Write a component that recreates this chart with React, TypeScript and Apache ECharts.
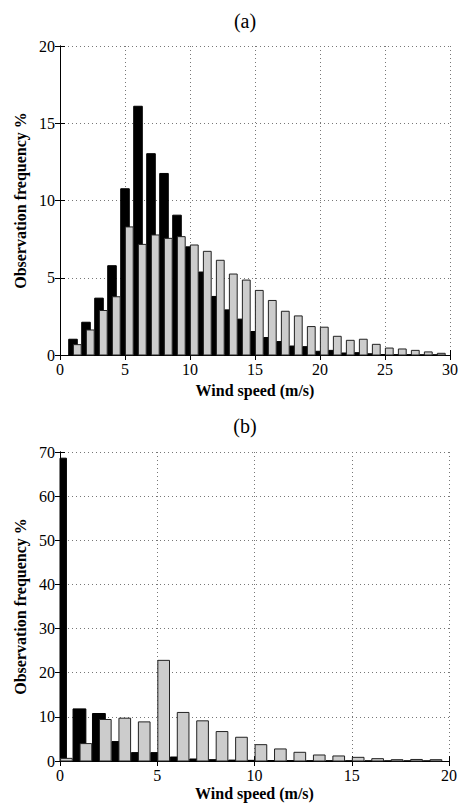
import React, { useEffect, useRef } from "react";
import * as echarts from "echarts";

// ---- Data: panel (a) ----
const speedsA = [1, 2, 3, 4, 5, 6, 7, 8, 9, 10, 11, 12, 13, 14, 15, 16, 17, 18, 19, 20, 21, 22, 23, 24, 25, 26, 27, 28, 29];
const blackA = [1.02, 2.12, 3.68, 5.78, 10.76, 16.1, 13.03, 11.75, 9.05, 7.0, 5.37, 3.79, 2.92, 2.32, 1.52, 1.13, 0.87, 0.58, 0.54, 0.24, 0.3, 0.13, 0.15, 0.08, 0.03, 0.02, 0.02, 0.01, 0.01];
const grayA = [0.67, 1.62, 2.88, 3.77, 8.29, 7.16, 7.77, 7.55, 7.66, 7.12, 6.71, 6.13, 5.24, 4.85, 4.18, 3.53, 2.83, 2.53, 1.84, 1.8, 1.21, 0.95, 1.02, 0.69, 0.45, 0.39, 0.3, 0.2, 0.11];

// ---- Data: panel (b) ----
const speedsB = [0, 1, 2, 3, 4, 5, 6, 7, 8, 9, 10, 11, 12, 13, 14, 15, 16, 17, 18, 19];
const blackB = [68.6, 11.8, 10.76, 4.4, 1.9, 1.9, 0.9, 0.45, 0.3, 0.2, 0.15, 0.1, 0.08, 0.06, 0.05, 0.04, 0.03, 0.02, 0.02, 0.01];
const grayB = [0.6, 3.94, 9.4, 9.7, 8.86, 22.8, 11.0, 9.1, 6.67, 5.38, 3.7, 2.73, 1.97, 1.36, 1.14, 0.83, 0.53, 0.3, 0.35, 0.3];

const titles = ["(a)", "(b)"];
const xName = "Wind speed (m/s)";
const yName = "Observation frequency %";

// ---- Style constants ----
const FONT = "'Liberation Serif', 'Times New Roman', Times, serif";
const BLACK_W = 0.66;
const GRAY_W = 0.6;
const GRAY_SHIFT = 0.33;

function barRender(width: number, shift: number, fill: string, stroke: string) {
  return (params: any, api: any) => {
    const x = api.value(0);
    const y = api.value(1);
    const p0 = api.coord([x + shift - width / 2, y]);
    const p1 = api.coord([x + shift + width / 2, 0]);
    const rect = echarts.graphic.clipRectByRect(
      { x: p0[0], y: p0[1], width: p1[0] - p0[0], height: p1[1] - p0[1] },
      {
        x: params.coordSys.x,
        y: params.coordSys.y,
        width: params.coordSys.width,
        height: params.coordSys.height,
      }
    );
    if (!rect) return null;
    return {
      type: "rect",
      shape: rect,
      style: { fill, stroke, lineWidth: 1 },
    };
  };
}

export default function App() {
  const ref = useRef<HTMLDivElement>(null);

  useEffect(() => {
    if (!ref.current) return;
    const chart = echarts.init(ref.current, null, { renderer: "svg" });

    const labelStyle = { color: "#000", fontFamily: FONT, fontSize: 16 };
    const nameStyle = { color: "#000", fontFamily: FONT, fontSize: 16, fontWeight: "bold" as const };
    const gridLine = { show: true, lineStyle: { color: "#777", type: [1, 3] as any, width: 1 } };
    const axisLine = { show: true, lineStyle: { color: "#000", width: 1 } };
    const tick = { show: true, inside: true, length: 5, lineStyle: { color: "#000" } };

    const mainX = (gi: number, max: number, gap: number) => ({
      type: "value" as const,
      gridIndex: gi,
      min: 0,
      max,
      interval: 5,
      position: "bottom" as const,
      axisLine,
      axisTick: tick,
      axisLabel: { ...labelStyle, margin: 6 },
      splitLine: gridLine,
      name: xName,
      nameLocation: "middle" as const,
      nameGap: gap,
      nameTextStyle: nameStyle,
    });
    const mirrorX = (gi: number, max: number) => ({
      type: "value" as const,
      gridIndex: gi,
      min: 0,
      max,
      interval: 5,
      position: "top" as const,
      axisLine,
      axisTick: tick,
      axisLabel: { show: false },
      splitLine: { show: false },
    });
    const mainY = (gi: number, max: number, interval: number) => ({
      type: "value" as const,
      gridIndex: gi,
      min: 0,
      max,
      interval,
      position: "left" as const,
      axisLine,
      axisTick: tick,
      axisLabel: { ...labelStyle, margin: 5 },
      splitLine: gridLine,
      name: yName,
      nameLocation: "middle" as const,
      nameRotate: 90,
      nameGap: 29,
      nameTextStyle: nameStyle,
    });
    const mirrorY = (gi: number, max: number, interval: number) => ({
      type: "value" as const,
      gridIndex: gi,
      min: 0,
      max,
      interval,
      position: "right" as const,
      axisLine,
      axisTick: tick,
      axisLabel: { show: false },
      splitLine: { show: false },
    });

    const pairs = (xs: number[], ys: number[]) => xs.map((x, i) => [x, ys[i]]);
    const titleStyle = { fontFamily: FONT, fontSize: 20, fontWeight: "normal" as const, color: "#000" };

    chart.setOption({
      animation: false,
      backgroundColor: "#fff",
      title: [
        { text: titles[0], left: 240, top: 6, textAlign: "center", textStyle: titleStyle },
        { text: titles[1], left: 240, top: 411, textAlign: "center", textStyle: titleStyle },
      ],
      grid: [
        { left: 60, top: 46, width: 390, height: 309, show: false },
        { left: 60, top: 452, width: 389, height: 309, show: false },
      ],
      xAxis: [mainX(0, 30, 27), mirrorX(0, 30), mainX(1, 20, 24), mirrorX(1, 20)],
      yAxis: [mainY(0, 20, 5), mirrorY(0, 20, 5), mainY(1, 70, 10), mirrorY(1, 70, 10)],
      series: [
        {
          type: "custom",
          xAxisIndex: 0,
          yAxisIndex: 0,
          data: pairs(speedsA, blackA),
          renderItem: barRender(BLACK_W, 0, "#000", "#000"),
          encode: { x: 0, y: 1 },
        },
        {
          type: "custom",
          xAxisIndex: 0,
          yAxisIndex: 0,
          data: pairs(speedsA, grayA),
          renderItem: barRender(GRAY_W, GRAY_SHIFT, "#cccccc", "#222"),
          encode: { x: 0, y: 1 },
        },
        {
          type: "custom",
          xAxisIndex: 2,
          yAxisIndex: 2,
          data: pairs(speedsB, blackB),
          renderItem: barRender(BLACK_W, 0, "#000", "#000"),
          encode: { x: 0, y: 1 },
        },
        {
          type: "custom",
          xAxisIndex: 2,
          yAxisIndex: 2,
          data: pairs(speedsB, grayB),
          renderItem: barRender(GRAY_W, GRAY_SHIFT, "#cccccc", "#222"),
          encode: { x: 0, y: 1 },
        },
      ],
    });

    return () => chart.dispose();
  }, []);

  return (
    <div
      ref={ref}
      style={{ position: "absolute", left: 0, top: 0, width: 464, height: 803, background: "#fff" }}
    />
  );
}
